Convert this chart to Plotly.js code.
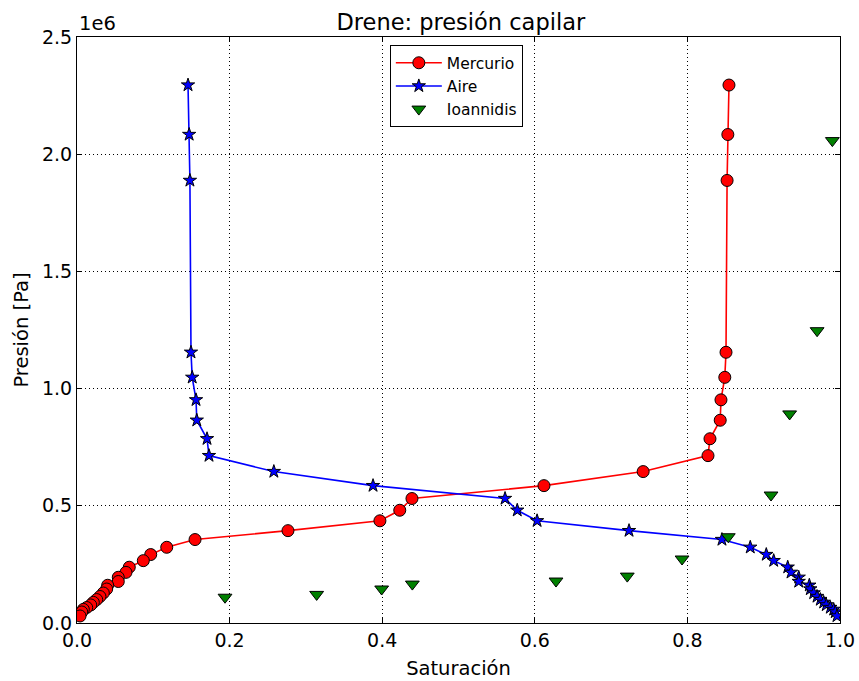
<!DOCTYPE html>
<html>
<head>
<meta charset="utf-8">
<script src="https://cdn.plot.ly/plotly-3.0.1.min.js"></script>
<style>html,body{margin:0;padding:0;background:#fff;}#chart{width:859px;height:681px;}</style>
</head>
<body>
<div id="chart"></div>
<script>
// Pressure values in units of 1e6 Pa
const mercurioSat = [0.8545, 0.853, 0.852, 0.8506, 0.849, 0.844, 0.843, 0.8296, 0.827, 0.742, 0.612, 0.439, 0.423, 0.397, 0.2765, 0.1547, 0.1176, 0.0966, 0.0869, 0.0685, 0.0642, 0.0541, 0.0541, 0.0402, 0.0389, 0.0345, 0.0301, 0.0258, 0.0214, 0.018, 0.0127, 0.0083, 0.0062, 0.004];
const mercurioPres = [2.295, 2.084, 1.888, 1.155, 1.048, 0.952, 0.865, 0.786, 0.714, 0.646, 0.586, 0.531, 0.481, 0.436, 0.394, 0.356, 0.323, 0.292, 0.266, 0.238, 0.216, 0.195, 0.177, 0.161, 0.145, 0.128, 0.113, 0.1, 0.088, 0.077, 0.066, 0.058, 0.047, 0.03];
const aireSat = [0.1455, 0.147, 0.148, 0.1494, 0.151, 0.156, 0.157, 0.1704, 0.173, 0.258, 0.388, 0.561, 0.577, 0.603, 0.7235, 0.8453, 0.8824, 0.9034, 0.9131, 0.9315, 0.9358, 0.9459, 0.9459, 0.9598, 0.9611, 0.9655, 0.9699, 0.9742, 0.9786, 0.982, 0.9873, 0.9917, 0.9938, 0.996];
const airePres = [2.295, 2.084, 1.888, 1.155, 1.048, 0.952, 0.865, 0.786, 0.714, 0.646, 0.586, 0.531, 0.481, 0.436, 0.394, 0.356, 0.323, 0.292, 0.266, 0.238, 0.216, 0.195, 0.177, 0.161, 0.145, 0.128, 0.113, 0.1, 0.088, 0.077, 0.066, 0.058, 0.047, 0.03];
const ioannidisSat = [0.194, 0.3141, 0.3993, 0.4395, 0.6278, 0.7212, 0.793, 0.8536, 0.9096, 0.934, 0.970, 0.990];
const ioannidisPres = [0.110, 0.122, 0.145, 0.166, 0.179, 0.200, 0.273, 0.368, 0.546, 0.892, 1.247, 2.058];
const yTickVals = [0.0, 0.5, 1.0, 1.5, 2.0, 2.5];
const xTickVals = [0.0, 0.2, 0.4, 0.6, 0.8, 1.0];

const font = 'DejaVu Sans, sans-serif';

const traces = [
  {x: mercurioSat, y: mercurioPres, name: 'Mercurio', mode: 'lines+markers', type: 'scatter',
   line: {color: '#ff0000', width: 1.6},
   marker: {symbol: 'circle', size: 12, color: '#ff0000', line: {color: '#000', width: 1}}},
  {x: aireSat, y: airePres, name: 'Aire', mode: 'lines+markers', type: 'scatter',
   line: {color: '#0000ff', width: 1.6},
   marker: {symbol: 'star', size: 10, color: '#0000ff', line: {color: '#000', width: 1}}},
  {x: ioannidisSat, y: ioannidisPres, name: 'Ioannidis', mode: 'markers', type: 'scatter',
   marker: {symbol: 'triangle-down', size: 12, color: '#008000', line: {color: '#000', width: 1}}}
];

const axisCommon = {
  showline: true, linecolor: '#000', linewidth: 1, mirror: 'ticks',
  ticks: 'inside', ticklen: 5, tickcolor: '#000', tickwidth: 1,
  showgrid: true, gridcolor: '#000', gridwidth: 1, griddash: '1px,3px',
  zeroline: false, tickfont: {family: font, size: 19, color: '#000'}
};

const layout = {
  width: 859, height: 681,
  margin: {l: 77, r: 19, t: 37, b: 58},
  paper_bgcolor: '#fff', plot_bgcolor: '#fff',
  font: {family: font, color: '#000'},
  title: {text: 'Drene: presión capilar', font: {family: font, size: 22.5, color: '#000'},
          x: 0.5365, xanchor: 'center', y: 0.968, yanchor: 'middle'},
  xaxis: Object.assign({}, axisCommon, {
    range: [0, 1], tickvals: xTickVals, tickformat: '.1f',
    title: {text: 'Saturación', font: {family: font, size: 19.5, color: '#000'}, standoff: 11}
  }),
  yaxis: Object.assign({}, axisCommon, {
    range: [0, 2.5], tickvals: yTickVals, tickformat: '.1f',
    title: {text: 'Presión [Pa]', font: {family: font, size: 19.5, color: '#000'}, standoff: 8}
  }),
  showlegend: true,
  legend: {x: 0.41, y: 0.986, xanchor: 'left', yanchor: 'top',
           bgcolor: '#fff', bordercolor: '#000', borderwidth: 1, itemwidth: 46,
           font: {family: font, size: 15.5, color: '#000'}},
  annotations: [{text: '1e6', xref: 'paper', yref: 'paper', x: 0.0, y: 1.0,
                 xanchor: 'left', yanchor: 'bottom', showarrow: false, yshift: 0, xshift: 0,
                 font: {family: font, size: 19.5, color: '#000'}}]
};

Plotly.newPlot('chart', traces, layout, {displayModeBar: false, staticPlot: true});
</script>
</body>
</html>
